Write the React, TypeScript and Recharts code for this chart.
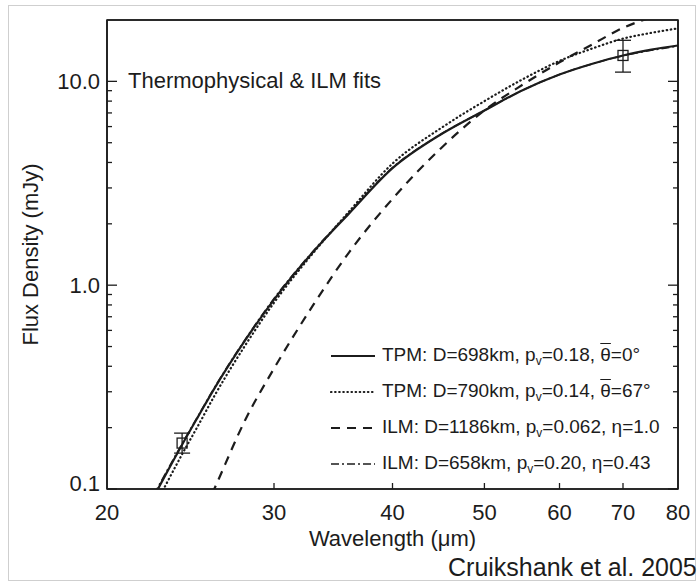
import React from "react";
import {
  ComposedChart,
  Line,
  Scatter,
  ErrorBar,
  XAxis,
  YAxis,
  Label,
  Legend,
  ReferenceArea,
} from "recharts";

// wavelength grid (µm) and model fluxes (mJy)
const wavelength = [22, 23, 24, 25, 26, 28, 30, 33, 36, 40, 45, 50, 55, 60, 65, 70, 75, 80];
const tpm698 = [0.078, 0.115, 0.165, 0.23, 0.315, 0.54, 0.85, 1.46, 2.25, 3.75, 5.5, 7.2, 9.1, 10.8, 12.2, 13.4, 14.3, 15.0];
const tpm790 = [0.068, 0.102, 0.148, 0.208, 0.29, 0.51, 0.82, 1.44, 2.3, 3.95, 5.9, 8.0, 10.3, 12.6, 14.5, 16.2, 17.3, 18.2];
const ilm1186 = [null, null, null, 0.068, 0.102, 0.22, 0.39, 0.8, 1.45, 2.65, 4.7, 7.2, 9.7, 12.4, 15.2, 18.3, 20.6, 22.5];
const ilm658 = [0.08, 0.117, 0.167, 0.232, 0.318, 0.545, 0.86, 1.47, 2.27, 3.77, 5.5, 7.2, 9.1, 10.8, 12.2, 13.35, 14.2, 14.9];

// Spitzer photometry
const obsWavelength = [24, 70];
const obsFlux = [0.168, 13.4];
const obsErrLow = [0.018, 2.3];
const obsErrHigh = [0.02, 2.5];

const xTicks = [20, 30, 40, 50, 60, 70, 80];
const yMajor = [0.1, 1, 10];
const yTicks = [0.1, 0.2, 0.3, 0.4, 0.5, 0.6, 0.7, 0.8, 0.9, 1, 2, 3, 4, 5, 6, 7, 8, 9, 10];

const FONT = '"Liberation Sans", Arial, sans-serif';
const INK = "#1c1c1c";

const toSeries = (vals: (number | null)[]) =>
  wavelength.map((w, i) => ({ w, f: vals[i] }));

const obs = obsWavelength.map((w, i) => ({
  w,
  f: obsFlux[i],
  err: [obsErrLow[i], obsErrHigh[i]],
}));

const styles: Record<string, { dash?: string; width: number; cap?: "round" | "butt" }> = {
  tpm698: { width: 2.2 },
  tpm790: { dash: "0.5 3.6", width: 2.2, cap: "round" },
  ilm1186: { dash: "9 7", width: 2.2 },
  ilm658: { dash: "8 3 2 3", width: 1.6 },
};

const Sub = ({ children }: { children: React.ReactNode }) => (
  <span style={{ fontSize: 12, verticalAlign: -4 }}>{children}</span>
);
const Over = ({ children }: { children: React.ReactNode }) => (
  <span style={{ textDecoration: "overline" }}>{children}</span>
);

const legendRows: { key: string; label: React.ReactNode }[] = [
  { key: "tpm698", label: <>TPM: D=698km, p<Sub>v</Sub>=0.18, <Over>θ</Over>=0°</> },
  { key: "tpm790", label: <>TPM: D=790km, p<Sub>v</Sub>=0.14, <Over>θ</Over>=67°</> },
  { key: "ilm1186", label: <>ILM: D=1186km, p<Sub>v</Sub>=0.062, η=1.0</> },
  { key: "ilm658", label: <>ILM: D=658km, p<Sub>v</Sub>=0.20, η=0.43</> },
];

const renderLegend = () => (
  <div style={{ fontFamily: FONT, fontSize: 19, color: INK }}>
    {legendRows.map((r) => {
      const s = styles[r.key];
      return (
        <div key={r.key} style={{ height: 36, display: "flex", alignItems: "center", whiteSpace: "nowrap" }}>
          <svg width={46} height={10} style={{ marginRight: 6 }}>
            <line x1={1} x2={45} y1={5} y2={5} stroke={INK} strokeWidth={s.width}
              strokeDasharray={s.dash} strokeLinecap={s.cap || "butt"} />
          </svg>
          <span>{r.label}</span>
        </div>
      );
    })}
  </div>
);

const fmtY = (v: number) => (v >= 1 ? v.toFixed(1) : String(v));

const LeftTick = (props: any) => {
  const { x, y, payload } = props;
  const v = payload.value;
  const major = yMajor.includes(v);
  return (
    <g>
      <path d={`M${x},${y}h${major ? 10 : 5}`} stroke={INK} strokeWidth={1.3} fill="none" />
      {major && (
        <text x={x - 7} y={v === 0.1 ? y - 6 : y} dy="0.35em" textAnchor="end"
          fontSize={22} fontFamily={FONT} fill={INK}>
          {fmtY(v)}
        </text>
      )}
    </g>
  );
};

const RightTick = (props: any) => {
  const { x, y, payload } = props;
  const major = yMajor.includes(payload.value);
  return <path d={`M${x},${y}h${major ? -10 : -5}`} stroke={INK} strokeWidth={1.3} fill="none" />;
};

const BottomTick = (props: any) => {
  const { x, y, payload } = props;
  const v = payload.value;
  return (
    <g>
      {v > 20 && v < 80 && <path d={`M${x},${y}v-6`} stroke={INK} strokeWidth={1.3} fill="none" />}
      <text x={x} y={y + 31} textAnchor="middle" fontSize={22} fontFamily={FONT} fill={INK}>
        {v}
      </text>
    </g>
  );
};

const TopTick = (props: any) => {
  const { x, y, payload } = props;
  const v = payload.value;
  if (v <= 20 || v >= 80) return <g />;
  return <path d={`M${x},${y}v6`} stroke={INK} strokeWidth={1.3} fill="none" />;
};

const Square = (props: any) => {
  const { cx, cy } = props;
  return <rect x={cx - 5} y={cy - 5} width={10} height={10} fill="none" stroke={INK} strokeWidth={1.3} />;
};

export default function App() {
  return (
    <div style={{ position: "absolute", left: 0, top: 0, width: 698, height: 583, background: "#fff", overflow: "hidden" }}>
      <div style={{ position: "absolute", left: 8, top: 5, width: 688, height: 576, border: "1px solid #cfcfcf", boxSizing: "border-box" }} />
      <ComposedChart width={698} height={583} margin={{ top: 19, right: 0, bottom: 0, left: 0 }}>
        <XAxis dataKey="w" type="number" scale="log" domain={[20, 80]} allowDataOverflow
          ticks={xTicks} interval={0} tickSize={0} tickMargin={0} tick={<BottomTick />}
          stroke={INK} axisLine={{ stroke: INK, strokeWidth: 1.6 }} height={94}>
          <Label content={(p: any) => {
            const vb = p.viewBox || {};
            return (
              <text x={vb.x + vb.width / 2} y={vb.y + 57} textAnchor="middle" fontSize={22} fontFamily={FONT} fill={INK}>
                Wavelength (μm)
              </text>
            );
          }} />
        </XAxis>
        <XAxis xAxisId="top" orientation="top" type="number" scale="log" domain={[20, 80]} allowDataOverflow
          ticks={xTicks} interval={0} tickSize={0} tickMargin={0} tick={<TopTick />}
          stroke={INK} axisLine={{ stroke: INK, strokeWidth: 1.6 }} height={1} />
        <YAxis type="number" scale="log" domain={[0.1, 20]} allowDataOverflow ticks={yTicks} interval={0}
          tickSize={0} tickMargin={0} tick={<LeftTick />} stroke={INK}
          axisLine={{ stroke: INK, strokeWidth: 1.6 }} width={107}>
          <Label content={(p: any) => {
            const vb = p.viewBox || {};
            const cx = vb.x + 30;
            const cy = vb.y + vb.height / 2;
            return (
              <text x={cx} y={cy} transform={`rotate(-90 ${cx} ${cy})`} textAnchor="middle" dy="0.35em"
                fontSize={22} fontFamily={FONT} fill={INK}>
                Flux Density (mJy)
              </text>
            );
          }} />
        </YAxis>
        <YAxis yAxisId="right" orientation="right" type="number" scale="log" domain={[0.1, 20]} allowDataOverflow
          ticks={yTicks} interval={0} tickSize={0} tickMargin={0} tick={<RightTick />} stroke={INK}
          axisLine={{ stroke: INK, strokeWidth: 1.6 }} width={20} />

        <ReferenceArea x1={20} x2={80} y1={0.1} y2={20} fill="none" stroke={INK} strokeWidth={1.6} ifOverflow="visible" />

        {(["ilm658", "ilm1186", "tpm790", "tpm698"] as const).map((k) => {
          const vals = { tpm698, tpm790, ilm1186, ilm658 }[k];
          const s = styles[k];
          return (
            <Line key={k} name={k} data={toSeries(vals)} dataKey="f" type="monotone" dot={false}
              stroke={INK} strokeWidth={s.width} strokeDasharray={s.dash} strokeLinecap={s.cap || "butt"}
              isAnimationActive={false} />
          );
        })}
        <Scatter data={obs} dataKey="f" shape={<Square />} legendType="none" isAnimationActive={false}>
          <ErrorBar dataKey="err" direction="y" width={8} stroke={INK} strokeWidth={1.3} />
        </Scatter>
        <Legend content={renderLegend} layout="vertical" align="center" verticalAlign="middle"
          wrapperStyle={{ left: 330, top: 338, width: 360 }} />
      </ComposedChart>
      <div style={{ position: "absolute", left: 128, top: 70, fontFamily: FONT, fontSize: 22, lineHeight: "22px", color: INK, whiteSpace: "nowrap" }}>
        Thermophysical &amp; ILM fits
      </div>
      <div style={{ position: "absolute", left: 448, top: 555, fontFamily: FONT, fontSize: 25, lineHeight: "25px", color: INK, whiteSpace: "nowrap" }}>
        Cruikshank et al. 2005
      </div>
    </div>
  );
}
